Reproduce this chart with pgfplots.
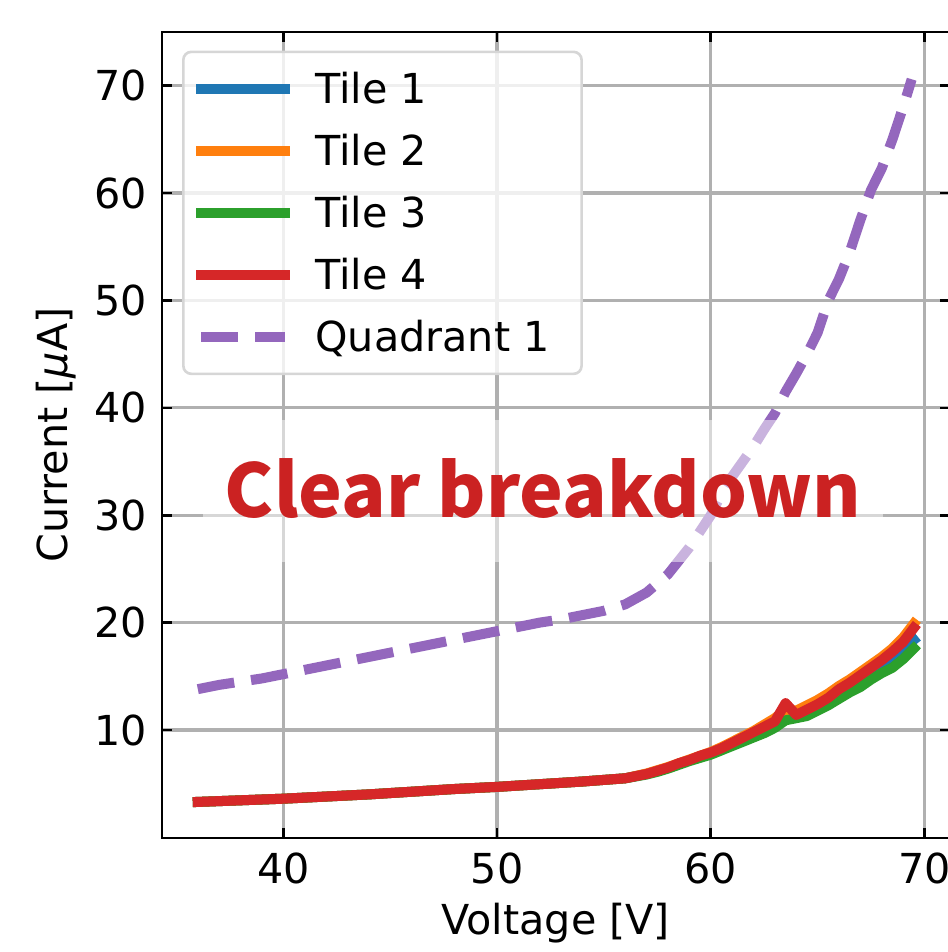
\documentclass[border=0pt]{standalone}
\usepackage{pgfplots}
\pgfplotsset{compat=1.18}
\usepackage{fontspec}
\setmainfont{DejaVu Sans}
\newfontfamily\cjk{Noto Sans CJK SC}
\definecolor{c1}{HTML}{1F77B4}
\definecolor{c2}{HTML}{FF7F0E}
\definecolor{c3}{HTML}{2CA02C}
\definecolor{c4}{HTML}{D62728}
\definecolor{c5}{HTML}{9467BD}
\definecolor{breakred}{HTML}{CB2222}

\pgfplotstableread{
x y
36 3.3
38 3.45
40 3.6
42 3.8
44 4.0
46 4.25
48 4.5
50 4.7
52 4.95
54 5.2
55 5.35
56 5.5
57 5.9
57.5 6.2
58 6.5
58.5 6.85
59 7.2
59.5 7.55
60 7.9
60.5 8.3
61 8.75
61.5 9.2
62 9.7
62.5 10.2
63 10.7
63.5 11.3
64 11.1
64.5 11.6
65 12.2
65.5 12.8
66 13.5
66.5 14.1
67 14.8
67.5 15.4
68 16.0
68.5 16.8
69 17.6
69.5 18.4
}\tileone

\pgfplotstableread{
x y
36 3.3
38 3.45
40 3.6
42 3.8
44 4.0
46 4.25
48 4.5
50 4.7
52 4.95
54 5.2
55 5.35
56 5.5
57 5.95
57.5 6.25
58 6.55
58.5 6.9
59 7.25
59.5 7.6
60 7.95
60.5 8.4
61 8.9
61.5 9.4
62 9.9
62.5 10.5
63 11.1
63.5 11.9
64 11.8
64.5 12.3
65 12.8
65.5 13.4
66 14.1
66.5 14.7
67 15.4
67.5 16.1
68 16.8
68.5 17.6
69 18.6
69.5 19.9
}\tiletwo

\pgfplotstableread{
x y
36 3.3
38 3.45
40 3.6
42 3.8
44 4.0
46 4.25
48 4.5
50 4.7
52 4.95
54 5.2
55 5.35
56 5.5
57 5.85
57.5 6.1
58 6.4
58.5 6.75
59 7.1
59.5 7.4
60 7.7
60.5 8.1
61 8.5
61.5 8.9
62 9.3
62.5 9.7
63 10.2
63.5 10.9
64 11.1
64.5 11.3
65 11.8
65.5 12.3
66 12.9
66.5 13.5
67 14.0
67.5 14.7
68 15.3
68.5 15.8
69 16.6
69.5 17.6
}\tilethree

\pgfplotstableread{
x y
36 3.3
38 3.45
40 3.6
42 3.8
44 4.0
46 4.25
48 4.5
50 4.7
52 4.95
54 5.2
55 5.35
56 5.5
57 5.9
57.5 6.2
58 6.5
58.5 6.9
59 7.2
59.5 7.6
60 7.9
60.5 8.3
61 8.8
61.5 9.3
62 9.8
62.5 10.3
63 10.8
63.5 12.5
64 11.4
64.5 11.9
65 12.4
65.5 13.0
66 13.8
66.5 14.4
67 15.1
67.5 15.8
68 16.5
68.5 17.3
69 18.2
69.5 19.5
}\tilefour

\pgfplotstableread{
x y
36 13.8
37 14.2
38 14.5
39 14.8
40 15.2
41 15.6
42 16.0
43 16.4
44 16.8
45 17.2
46 17.6
47 18.0
48 18.4
49 18.8
50 19.2
51 19.6
52 20.0
53 20.3
54 20.7
55 21.1
56 21.7
57 22.8
58 24.5
59 27.0
60 30.0
60.5 32.0
61 33.6
61.5 35.0
62 36.4
62.5 38.0
63 39.5
63.5 41.5
64 43.2
64.5 45.0
65 47.0
65.5 50.0
66 52.0
66.5 54.5
67 57.5
67.5 60.3
68 62.3
68.5 65.0
69 68.0
69.4 70.6
}\quadone

\begin{document}
\begin{tikzpicture}
\useasboundingbox (-3.24cm,-2.28cm) rectangle (15.72cm,16.76cm);
\begin{axis}[
  at={(0,0)}, anchor=south west,
  scale only axis, width=15.752cm, height=16.12cm,
  xmin=34.325, xmax=71.175, ymin=-0.06, ymax=75,
  xtick={40,50,60,70}, ytick={10,20,30,40,50,60,70},
  tick align=inside, major tick length=0.2cm,
  tick style={black, line width=1.5pt},
  axis line style={line width=1.5pt},
  grid=major, major grid style={color=black!31, line width=1.8pt},
  font=\fontsize{23.5}{28}\selectfont,
  /pgf/number format/assume math mode=true,
  every tick label/.append style={font=\fontsize{23.5}{28}\selectfont, inner sep=0pt},
  xticklabel style={yshift=-0.28cm},
  yticklabel style={xshift=-0.3cm},
  xlabel={Voltage [V]},
  ylabel={Current [{\itshape μ}A]},
  xlabel style={at={(axis description cs:0.5,-0.1203)}, anchor=base, inner sep=0pt},
  ylabel style={at={(axis description cs:-0.1194,0.5)}, anchor=base, inner sep=0pt},
  legend cell align=left,
  legend style={at={(0.0254,0.977)}, anchor=north west, draw=black!16, fill=white,
    fill opacity=0.8, text opacity=1, rounded corners=0.16cm, line width=1.5pt,
    inner xsep=0.24cm, inner ysep=0.12cm, column sep=0.5cm, row sep=0pt,
    font=\fontsize{23.5}{28}\selectfont,
    nodes={inner sep=0pt, text height=0.92cm, text depth=0.32cm}},
  legend image code/.code={\path[draw=none, fill=none] (0cm,-0.62cm) rectangle (1.88cm,0.62cm);
    \draw[#1, rounded corners=0pt] (0.12cm,0cm) -- (1.8cm,0cm);},
]
\addplot[c1, line width=5.7pt, line join=round, line cap=rect] table {\tileone};
\addlegendentry{Tile 1}
\addplot[c2, line width=5.7pt, line join=round, line cap=rect] table {\tiletwo};
\addlegendentry{Tile 2}
\addplot[c3, line width=5.7pt, line join=round, line cap=rect] table {\tilethree};
\addlegendentry{Tile 3}
\addplot[c4, line width=5.7pt, line join=round, line cap=rect] table {\tilefour};
\addlegendentry{Tile 4}
\addplot[c5, line width=5.7pt, line join=round, dash pattern=on 0.74cm off 0.34cm] table {\quadone};
\addlegendentry{Quadrant 1\hspace*{0.4cm}}
\node[font=\cjk\bfseries\fontsize{42}{50}\selectfont, text=breakred, fill=white,
  fill opacity=0.5, text opacity=1, inner xsep=0.44cm, inner ysep=0pt,
  text height=1.96cm, text depth=0.88cm, anchor=base] at (axis cs:52.15,29.75) {Clear breakdown};
\end{axis}
\end{tikzpicture}
\end{document}
